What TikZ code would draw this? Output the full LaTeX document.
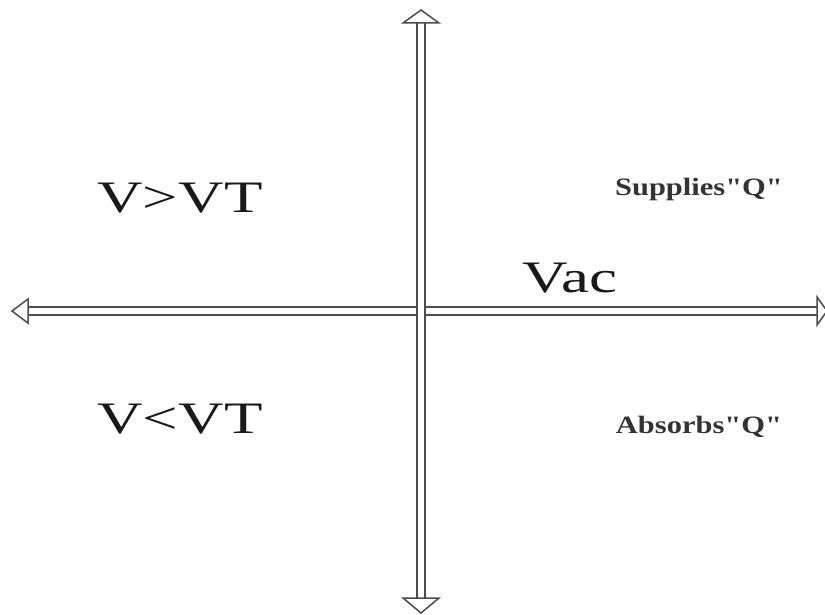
\documentclass[tikz,border=0pt]{standalone}
\usepackage{fontspec}
\setmainfont{Liberation Serif}[Ligatures=TeXOff]
\begin{document}
\begin{tikzpicture}[x=1pt,y=-1pt,
  shaft/.style={draw=black!70,line width=1.5pt},
  head/.style={draw=black!70,line width=1.5pt,fill=white,line join=miter},
  big/.style={font=\fontsize{45}{45}\selectfont,inner sep=0pt,anchor=base,xscale=1.4,text=black!90},
  small/.style={font=\bfseries\fontsize{25}{25}\selectfont,inner sep=0pt,anchor=base,xscale=1.22,text=black!80}]
\useasboundingbox (0,0) rectangle (825,615);
% vertical axis
\coordinate (vt) at (421,10);
\coordinate (vb) at (421,613);
\draw[shaft] (417,23) -- (417,598);
\draw[shaft] (425,23) -- (425,598);
% horizontal axis
\coordinate (hl) at (12,311);
\coordinate (hr) at (827,311);
\draw[shaft] (28,307) -- (417,307) (425,307) -- (817,307);
\draw[shaft] (28,315) -- (417,315) (425,315) -- (817,315);
\draw[shaft] (417,307) -- (417,315) (425,307) -- (425,315);
% heads
\draw[head] (vt) -- (439,23) -- (403,23) -- cycle;
\draw[head] (vb) -- (439,598) -- (403,598) -- cycle;
\draw[head] (hl) -- (28,299) -- (28,323) -- cycle;
\draw[head] (hr) -- (817,297) -- (817,325) -- cycle;
% labels
\node[big] (a) at (180,212) {V>VT};
\node[big] (b) at (180,433) {V<VT};
\node[big] (c) at (570,292) {Vac};
\node[small] (d) at (699,195) {Supplies"Q"};
\node[small] (e) at (699,433) {Absorbs"Q"};
\end{tikzpicture}
\end{document}
